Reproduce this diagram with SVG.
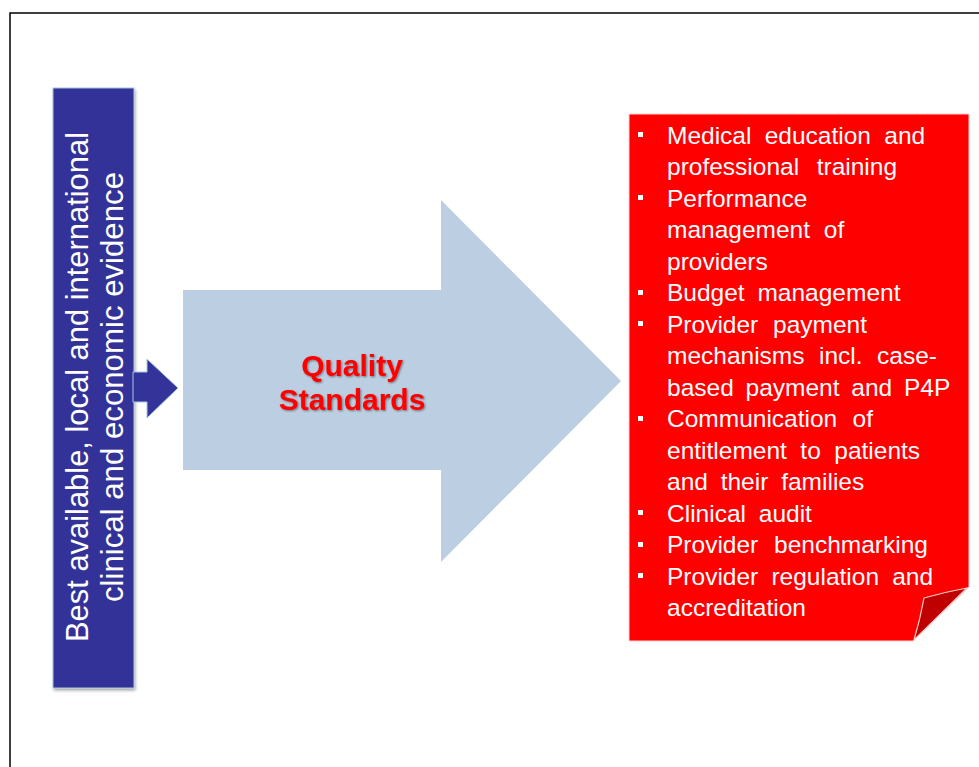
<svg xmlns="http://www.w3.org/2000/svg" width="979" height="767" viewBox="0 0 979 767">
  <defs>
    <filter id="shadow" x="-10%" y="-10%" width="130%" height="120%">
      <feGaussianBlur in="SourceAlpha" stdDeviation="1.5"/>
      <feOffset dx="1" dy="2" result="b"/>
      <feComponentTransfer><feFuncA type="linear" slope="0.35"/></feComponentTransfer>
      <feMerge><feMergeNode/><feMergeNode in="SourceGraphic"/></feMerge>
    </filter>
    <filter id="softshadow" x="-5%" y="-5%" width="110%" height="110%">
      <feGaussianBlur in="SourceAlpha" stdDeviation="1"/>
      <feOffset dx="1" dy="1"/>
      <feComponentTransfer><feFuncA type="linear" slope="0.3"/></feComponentTransfer>
      <feMerge><feMergeNode/><feMergeNode in="SourceGraphic"/></feMerge>
    </filter>
    <filter id="textshadow" x="-5%" y="-20%" width="110%" height="140%">
      <feGaussianBlur in="SourceAlpha" stdDeviation="0.8"/>
      <feOffset dx="1" dy="1"/>
      <feComponentTransfer><feFuncA type="linear" slope="0.45"/></feComponentTransfer>
      <feMerge><feMergeNode/><feMergeNode in="SourceGraphic"/></feMerge>
    </filter>
  </defs>
  <style>
    .frame { fill: #ffffff; stroke: #000000; stroke-width: 1.5; }
    .navy { fill: #333399; stroke: #a8c8dc; stroke-width: 1; }
    .evidence { font-family: "Liberation Sans", Arial, sans-serif; font-size: 31px; fill: #ffffff; }
    .big-arrow { fill: #bccee1; }
    .title { font-family: "Liberation Sans", Arial, sans-serif; font-size: 30px; font-weight: bold; fill: #ff0000; text-anchor: middle; }
    .panel { fill: #ff0000; stroke: #ffd0d0; stroke-width: 1; }
    .flap { fill: #c00000; stroke: #ffd0d0; stroke-width: 1.2; }
    .list { font-family: "Liberation Sans", Arial, sans-serif; font-size: 24.5px; fill: #ffffff; word-spacing: 6px; }
    .bullet { fill: #ffffff; }
  </style>

  <rect class="frame" x="10" y="13" width="1000" height="800"/>

  <!-- evidence source column -->
  <g id="evidence">
    <rect class="navy" x="53" y="88" width="81" height="600" filter="url(#shadow)"/>
    <text class="evidence" transform="translate(88,387) rotate(-90)" text-anchor="middle" textLength="510" lengthAdjust="spacingAndGlyphs">Best available, local and international</text>
    <text class="evidence" transform="translate(123,387) rotate(-90)" text-anchor="middle" textLength="430" lengthAdjust="spacingAndGlyphs">clinical and economic evidence</text>
  </g>

  <!-- connectors -->
  <g id="connectors">
    <polygon class="navy" points="133,372 147,372 147,359 178,388 147,418 147,402 133,402"/>
  </g>

  <!-- central arrow -->
  <g id="quality-standards">
    <polygon class="big-arrow" points="183,290 441,290 441,200 621,381 441,562 441,470 183,470"/>
    <g filter="url(#textshadow)">
      <text class="title" x="352" y="376">Quality</text>
      <text class="title" x="352" y="410">Standards</text>
    </g>
  </g>

  <!-- applications panel -->
  <g id="applications">
    <path class="panel" d="M629,114 H969 V587 L913,641 H629 Z"/>
    <path class="flap" d="M967,588 Q945,592 924,598 Q920,620 914,640 Z"/>
    <g class="bullet">
      <rect x="638" y="132" width="5" height="5"/>
      <rect x="638" y="195" width="5" height="5"/>
      <rect x="638" y="290" width="5" height="5"/>
      <rect x="638" y="321" width="5" height="5"/>
      <rect x="638" y="416" width="5" height="5"/>
      <rect x="638" y="510" width="5" height="5"/>
      <rect x="638" y="542" width="5" height="5"/>
      <rect x="638" y="573" width="5" height="5"/>
    </g>
    <text class="list">
      <tspan x="667" y="143.5" word-spacing="6.5">Medical education and</tspan>
      <tspan x="667" y="175" word-spacing="10.8">professional training</tspan>
      <tspan x="667" y="206.5">Performance</tspan>
      <tspan x="667" y="238" word-spacing="7">management of</tspan>
      <tspan x="667" y="269.5">providers</tspan>
      <tspan x="667" y="301">Budget management</tspan>
      <tspan x="667" y="332.5" word-spacing="8">Provider payment</tspan>
      <tspan x="667" y="364" word-spacing="7.7">mechanisms incl. case-</tspan>
      <tspan x="667" y="395.5" word-spacing="5">based payment and P4P</tspan>
      <tspan x="667" y="427" word-spacing="8.6">Communication of</tspan>
      <tspan x="667" y="458.5" word-spacing="6.7">entitlement to patients</tspan>
      <tspan x="667" y="490">and their families</tspan>
      <tspan x="667" y="521.5">Clinical audit</tspan>
      <tspan x="667" y="553" word-spacing="9">Provider benchmarking</tspan>
      <tspan x="667" y="584.5" word-spacing="6.4">Provider regulation and</tspan>
      <tspan x="667" y="616">accreditation</tspan>
    </text>
  </g>
</svg>
